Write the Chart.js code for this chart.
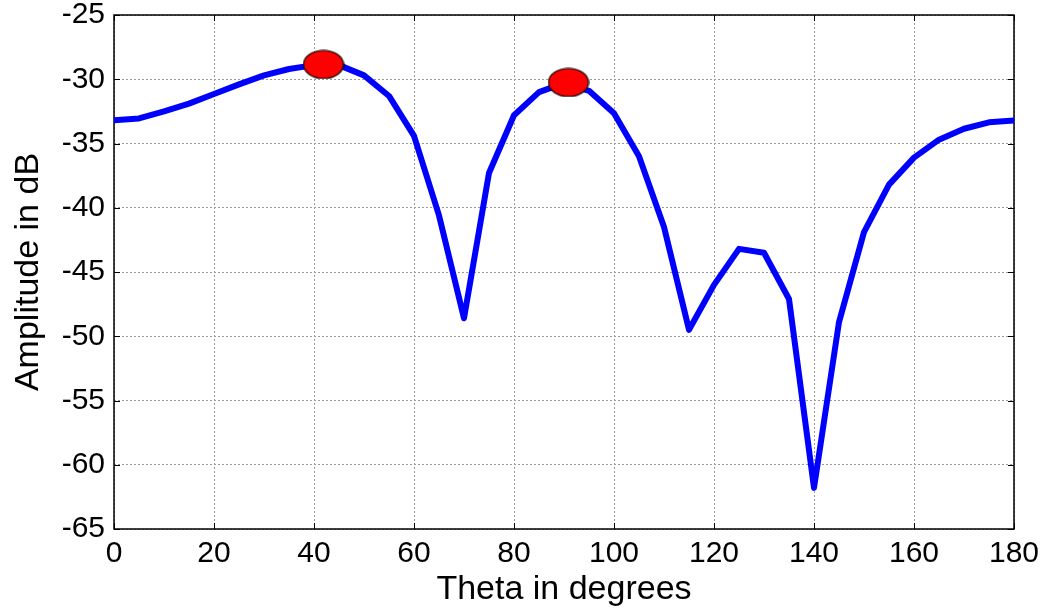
<!DOCTYPE html>
<html>
<head>
<meta charset="utf-8">
<script src="https://cdn.jsdelivr.net/npm/chart.js@4.4.1/dist/chart.umd.min.js"></script>
<style>
    html, body { margin: 0; padding: 0; background: #fff; }
    #wrap { width: 1054px; height: 613px; }
</style>
</head>
<body>
<div id="wrap"><canvas id="beamChart"></canvas></div>
<script>
// Beam pattern samples (every 5 degrees)
const thetaDeg = [0, 5, 10, 15, 20, 25, 30, 35, 40, 45, 50, 55, 60, 65, 70, 75, 80, 85, 90,
    95, 100, 105, 110, 115, 120, 125, 130, 135, 140, 145, 150, 155, 160, 165, 170, 175, 180];
const ampDb = [-33.2, -33.05, -32.5, -31.9, -31.15, -30.4, -29.7, -29.2, -28.9, -28.9,
    -29.7, -31.3, -34.4, -40.6, -48.6, -37.3, -32.8, -31.0, -30.3,
    -30.9, -32.65, -36.0, -41.5, -49.5, -46.0, -43.2, -43.5, -47.1, -61.8, -48.9,
    -41.9, -38.2, -36.1, -34.7, -33.85, -33.35, -33.2];

// Estimated directions of arrival
const peakTheta = [41.9, 90.9];
const peakDb = [-28.85, -30.25];

// Axis ticks
const xTicks = [0, 20, 40, 60, 80, 100, 120, 140, 160, 180];
const yTicks = [-65, -60, -55, -50, -45, -40, -35, -30, -25];

const fontFamily = '"Liberation Sans", Arial, sans-serif';

// red ellipse used as point style for the peaks
function makeEllipse(w, h) {
    const c = document.createElement("canvas");
    c.width = w + 2;
    c.height = h + 2;
    const g = c.getContext("2d");
    g.beginPath();
    g.ellipse(c.width / 2, c.height / 2, w / 2, h / 2, 0, 0, Math.PI * 2);
    g.fillStyle = "#ff0000";
    g.fill();
    g.lineWidth = 1.2;
    g.strokeStyle = "#000";
    g.stroke();
    return c;
}

// box around the plot + inward tick marks on all sides
const boxPlugin = {
    id: "matlabBox",
    beforeDatasetsDraw(chart) {
        const { ctx, chartArea: a, scales } = chart;
        const len = 6;
        ctx.save();
        ctx.strokeStyle = "#000";
        ctx.lineWidth = 1;
        ctx.beginPath();
        xTicks.forEach((v) => {
            const px = Math.round(scales.x.getPixelForValue(v)) + 0.5;
            ctx.moveTo(px, a.bottom);
            ctx.lineTo(px, a.bottom - len);
            ctx.moveTo(px, a.top);
            ctx.lineTo(px, a.top + len);
        });
        yTicks.forEach((v) => {
            const py = Math.round(scales.y.getPixelForValue(v)) + 0.5;
            ctx.moveTo(a.left, py);
            ctx.lineTo(a.left + len, py);
            ctx.moveTo(a.right, py);
            ctx.lineTo(a.right - len, py);
        });
        ctx.stroke();
        ctx.lineWidth = 1.5;
        ctx.strokeRect(a.left, a.top, a.right - a.left, a.bottom - a.top);
        ctx.restore();
    },
};

const ctx = document.getElementById("beamChart").getContext("2d");

const beamChart = new Chart(ctx, {
    type: "line",
    data: {
        datasets: [
            {
                label: "Peaks",
                data: peakTheta.map((t, i) => ({ x: t, y: peakDb[i] })),
                showLine: false,
                pointStyle: makeEllipse(40, 28),
                order: 0,
            },
            {
                label: "Beam pattern",
                data: thetaDeg.map((t, i) => ({ x: t, y: ampDb[i] })),
                borderColor: "#0000ff",
                borderWidth: 6,
                borderJoinStyle: "round",
                borderCapStyle: "round",
                pointRadius: 0,
                tension: 0,
                fill: false,
                order: 1,
            },
        ],
    },
    options: {
        responsive: true,
        maintainAspectRatio: false,
        animation: false,
        layout: { padding: { top: 15, right: 40, left: 0, bottom: 0 } },
        plugins: {
            legend: { display: false },
            tooltip: { enabled: false },
        },
        scales: {
            x: {
                type: "linear",
                min: 0,
                max: 180,
                afterBuildTicks: (s) => { s.ticks = xTicks.map((v) => ({ value: v })); },
                afterFit: (s) => {
                    s.height = 84;
                    s.paddingLeft = 0;
                    s.paddingRight = 0;
                },
                ticks: {
                    color: "#000",
                    font: { family: fontFamily, size: 30 },
                    padding: 7,
                    maxRotation: 0,
                    autoSkip: false,
                },
                grid: { color: "#999", lineWidth: 1, drawTicks: false },
                border: { display: false, dash: [2, 2] },
                title: {
                    display: true,
                    text: "Theta in degrees",
                    color: "#000",
                    font: { family: fontFamily, size: 34 },
                    padding: { top: 0, bottom: 3 },
                },
            },
            y: {
                min: -65,
                max: -25,
                afterBuildTicks: (s) => { s.ticks = yTicks.map((v) => ({ value: v })); },
                afterFit: (s) => {
                    s.width = 114;
                    s.paddingTop = 0;
                    s.paddingBottom = 0;
                },
                ticks: {
                    color: "#000",
                    font: { family: fontFamily, size: 30 },
                    padding: 9,
                    autoSkip: false,
                },
                grid: { color: "#999", lineWidth: 1, drawTicks: false },
                border: { display: false, dash: [2, 2] },
                title: {
                    display: true,
                    text: "Amplitude in dB",
                    color: "#000",
                    font: { family: fontFamily, size: 34 },
                    padding: { top: 8, bottom: 0 },
                },
            },
        },
    },
    plugins: [boxPlugin],
});
</script>
</body>
</html>
